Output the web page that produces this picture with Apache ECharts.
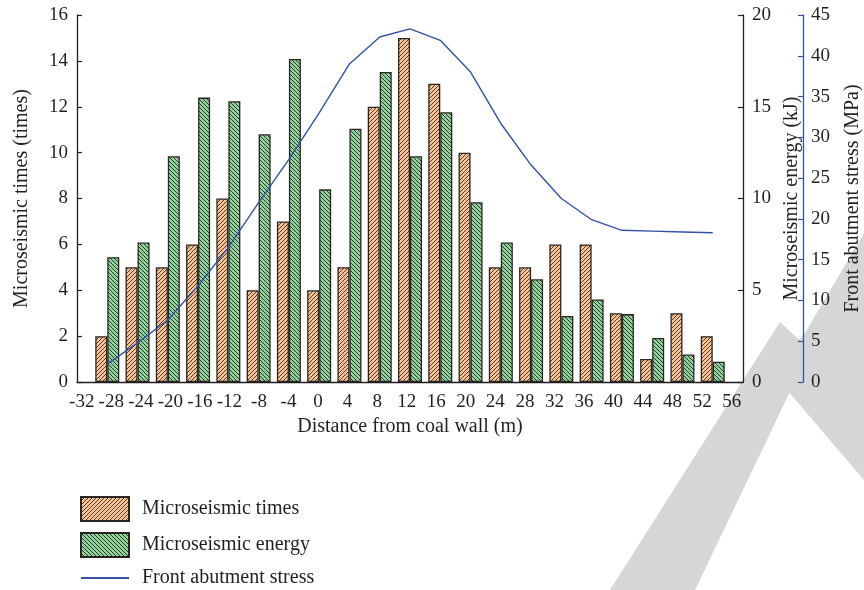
<!DOCTYPE html>
<html>
<head>
<meta charset="utf-8">
<script src="https://cdn.jsdelivr.net/npm/echarts@6/dist/echarts.min.js"></script>
<style>
  html, body { margin: 0; padding: 0; background: #fff; }
  #chart { width: 864px; height: 590px; }
</style>
</head>
<body>
<div id="chart"></div>
<script>
// Distance ticks shown under the plot (m)
const tickLabels = [-32, -28, -24, -20, -16, -12, -8, -4, 0, 4, 8, 12, 16, 20, 24, 28, 32, 36, 40, 44, 48, 52, 56];
// Measurement stations (m from coal wall)
const distance = [-28, -24, -20, -16, -12, -8, -4, 0, 4, 8, 12, 16, 20, 24, 28, 32, 36, 40, 44, 48, 52];
// Microseismic event counts (times)
const times = [2, 5, 5, 6, 8, 4, 7, 4, 5, 12, 15, 13, 10, 5, 5, 6, 6, 3, 1, 3, 2];
// Microseismic energy (kJ)
const energy = [6.8, 7.6, 12.3, 15.5, 15.3, 13.5, 17.6, 10.5, 13.8, 16.9, 12.3, 14.7, 9.8, 7.6, 5.6, 3.6, 4.5, 3.7, 2.4, 1.5, 1.1];
// Front abutment stress (MPa)
const stress = [2.2, 4.8, 7.6, 11.8, 16.5, 22.0, 27.3, 33.0, 39.0, 42.3, 43.3, 41.9, 38.0, 31.7, 26.6, 22.5, 19.9, 18.6, 18.5, 18.4, 18.3];

const FONT = '"Liberation Serif", "DejaVu Serif", serif';
const INK = '#231f20';
const BLUE = '#3451a6';

// Small repeating tile with diagonal hatching
function hatch(base, ink, rising) {
  const s = 4;
  const c = document.createElement('canvas');
  c.width = c.height = s;
  const g = c.getContext('2d');
  g.fillStyle = base;
  g.fillRect(0, 0, s, s);
  g.fillStyle = ink;
  for (let i = 0; i < s; i++) {
    const x = rising ? s - 1 - i : i;
    g.fillRect(x, i, 1, 1);
  }
  return { image: c, repeat: 'repeat' };
}

const orangeFill = hatch('#f9c293', 'rgba(50,35,28,0.85)', true);
const greenFill = hatch('#92d19b', 'rgba(25,45,30,0.9)', false);

const pairs = (ys) => distance.map((d, i) => [d, ys[i]]);

const axisText = { fontFamily: FONT, fontSize: 19, color: INK };
const nameText = { fontFamily: FONT, fontSize: 20, color: INK };

const chart = echarts.init(document.getElementById('chart'), null, { renderer: 'canvas' });

chart.setOption({
  animation: false,
  backgroundColor: '#fff',
  grid: { left: 77, right: 121, top: 15, bottom: 208, outerBoundsMode: 'none', containLabel: false },
  xAxis: [
    {
      type: 'value', min: -32, max: 56, position: 'bottom',
      axisLine: { show: true, onZero: false, lineStyle: { color: INK, width: 1.3 } },
      axisTick: { show: false }, axisLabel: { show: false }, splitLine: { show: false }
    },
    {
      type: 'value', min: -32.64, max: 57.53, position: 'bottom',
      axisLine: { show: false, onZero: false }, axisTick: { show: false }, splitLine: { show: false },
      axisLabel: Object.assign({ customValues: tickLabels, margin: 11, hideOverlap: false, showMinLabel: true, showMaxLabel: true }, axisText),
      name: 'Distance from coal wall (m)', nameLocation: 'middle', nameGap: 30, nameTextStyle: nameText
    }
  ],
  yAxis: [
    {
      type: 'value', min: 0, max: 16, interval: 2, position: 'left',
      axisLine: { show: true, onZero: false, lineStyle: { color: INK, width: 1.3 } },
      axisTick: { show: true, inside: true, length: 5, lineStyle: { color: INK, width: 1.2 } },
      axisLabel: Object.assign({ margin: 9 }, axisText), splitLine: { show: false },
      name: 'Microseismic times (times)', nameLocation: 'middle', nameRotate: 90, nameGap: 45, nameTextStyle: nameText
    },
    {
      type: 'value', min: 0, max: 20, interval: 5, position: 'right',
      axisLine: { show: true, onZero: false, lineStyle: { color: INK, width: 1.3 } },
      axisTick: { show: true, inside: true, length: 5, lineStyle: { color: INK, width: 1.2 } },
      axisLabel: Object.assign({ margin: 9 }, axisText), splitLine: { show: false },
      name: 'Microseismic energy (kJ)', nameLocation: 'middle', nameRotate: 90, nameGap: 32, nameTextStyle: nameText
    },
    {
      type: 'value', min: 0, max: 45, interval: 5, position: 'right', offset: 60,
      axisLine: { show: true, onZero: false, lineStyle: { color: BLUE, width: 1.3 } },
      axisTick: { show: true, inside: true, length: 5, lineStyle: { color: BLUE, width: 1.2 } },
      axisLabel: Object.assign({ margin: 8 }, axisText), splitLine: { show: false },
      name: 'Front abutment stress (MPa)', nameLocation: 'middle', nameRotate: 90, nameGap: 40, nameTextStyle: nameText
    }
  ],
  legend: {
    orient: 'vertical', left: 80, top: 496, padding: 0,
    itemWidth: 48, itemHeight: 24, itemGap: 10,
    textStyle: { fontFamily: FONT, fontSize: 20, color: INK, padding: [0, 0, 0, 8] },
    data: [
      { name: 'Microseismic times', icon: 'rect' },
      { name: 'Microseismic energy', icon: 'rect' },
      { name: 'Front abutment stress', itemStyle: { color: 'rgba(0,0,0,0)', borderWidth: 0, opacity: 0 } }
    ]
  },
  graphic: [
    {
      type: 'polygon', z: -10, silent: true,
      shape: { points: [[610, 590], [695, 590], [810, 350], [780, 322]] },
      style: { fill: '#d6d6d6' }
    },
    {
      type: 'polygon', z: -10, silent: true,
      shape: { points: [[805, 333], [864, 233], [864, 480], [770, 370]] },
      style: { fill: '#d6d6d6' }
    }
  ],
  series: [
    {
      name: 'Microseismic times', type: 'bar', xAxisIndex: 0, yAxisIndex: 0,
      data: pairs(times), barWidth: 12, barGap: '0%',
      itemStyle: { color: orangeFill, borderColor: '#2a2421', borderWidth: 1.3 }
    },
    {
      name: 'Microseismic energy', type: 'bar', xAxisIndex: 0, yAxisIndex: 1,
      data: pairs(energy), barWidth: 12, barGap: '0%',
      itemStyle: { color: greenFill, borderColor: '#2a2421', borderWidth: 1.3 }
    },
    {
      name: 'Front abutment stress', type: 'line', xAxisIndex: 0, yAxisIndex: 2,
      data: pairs(stress), symbol: 'none', smooth: false, z: 5,
      lineStyle: { color: BLUE, width: 1.4 }, itemStyle: { color: BLUE }
    }
  ]
});
</script>
</body>
</html>
